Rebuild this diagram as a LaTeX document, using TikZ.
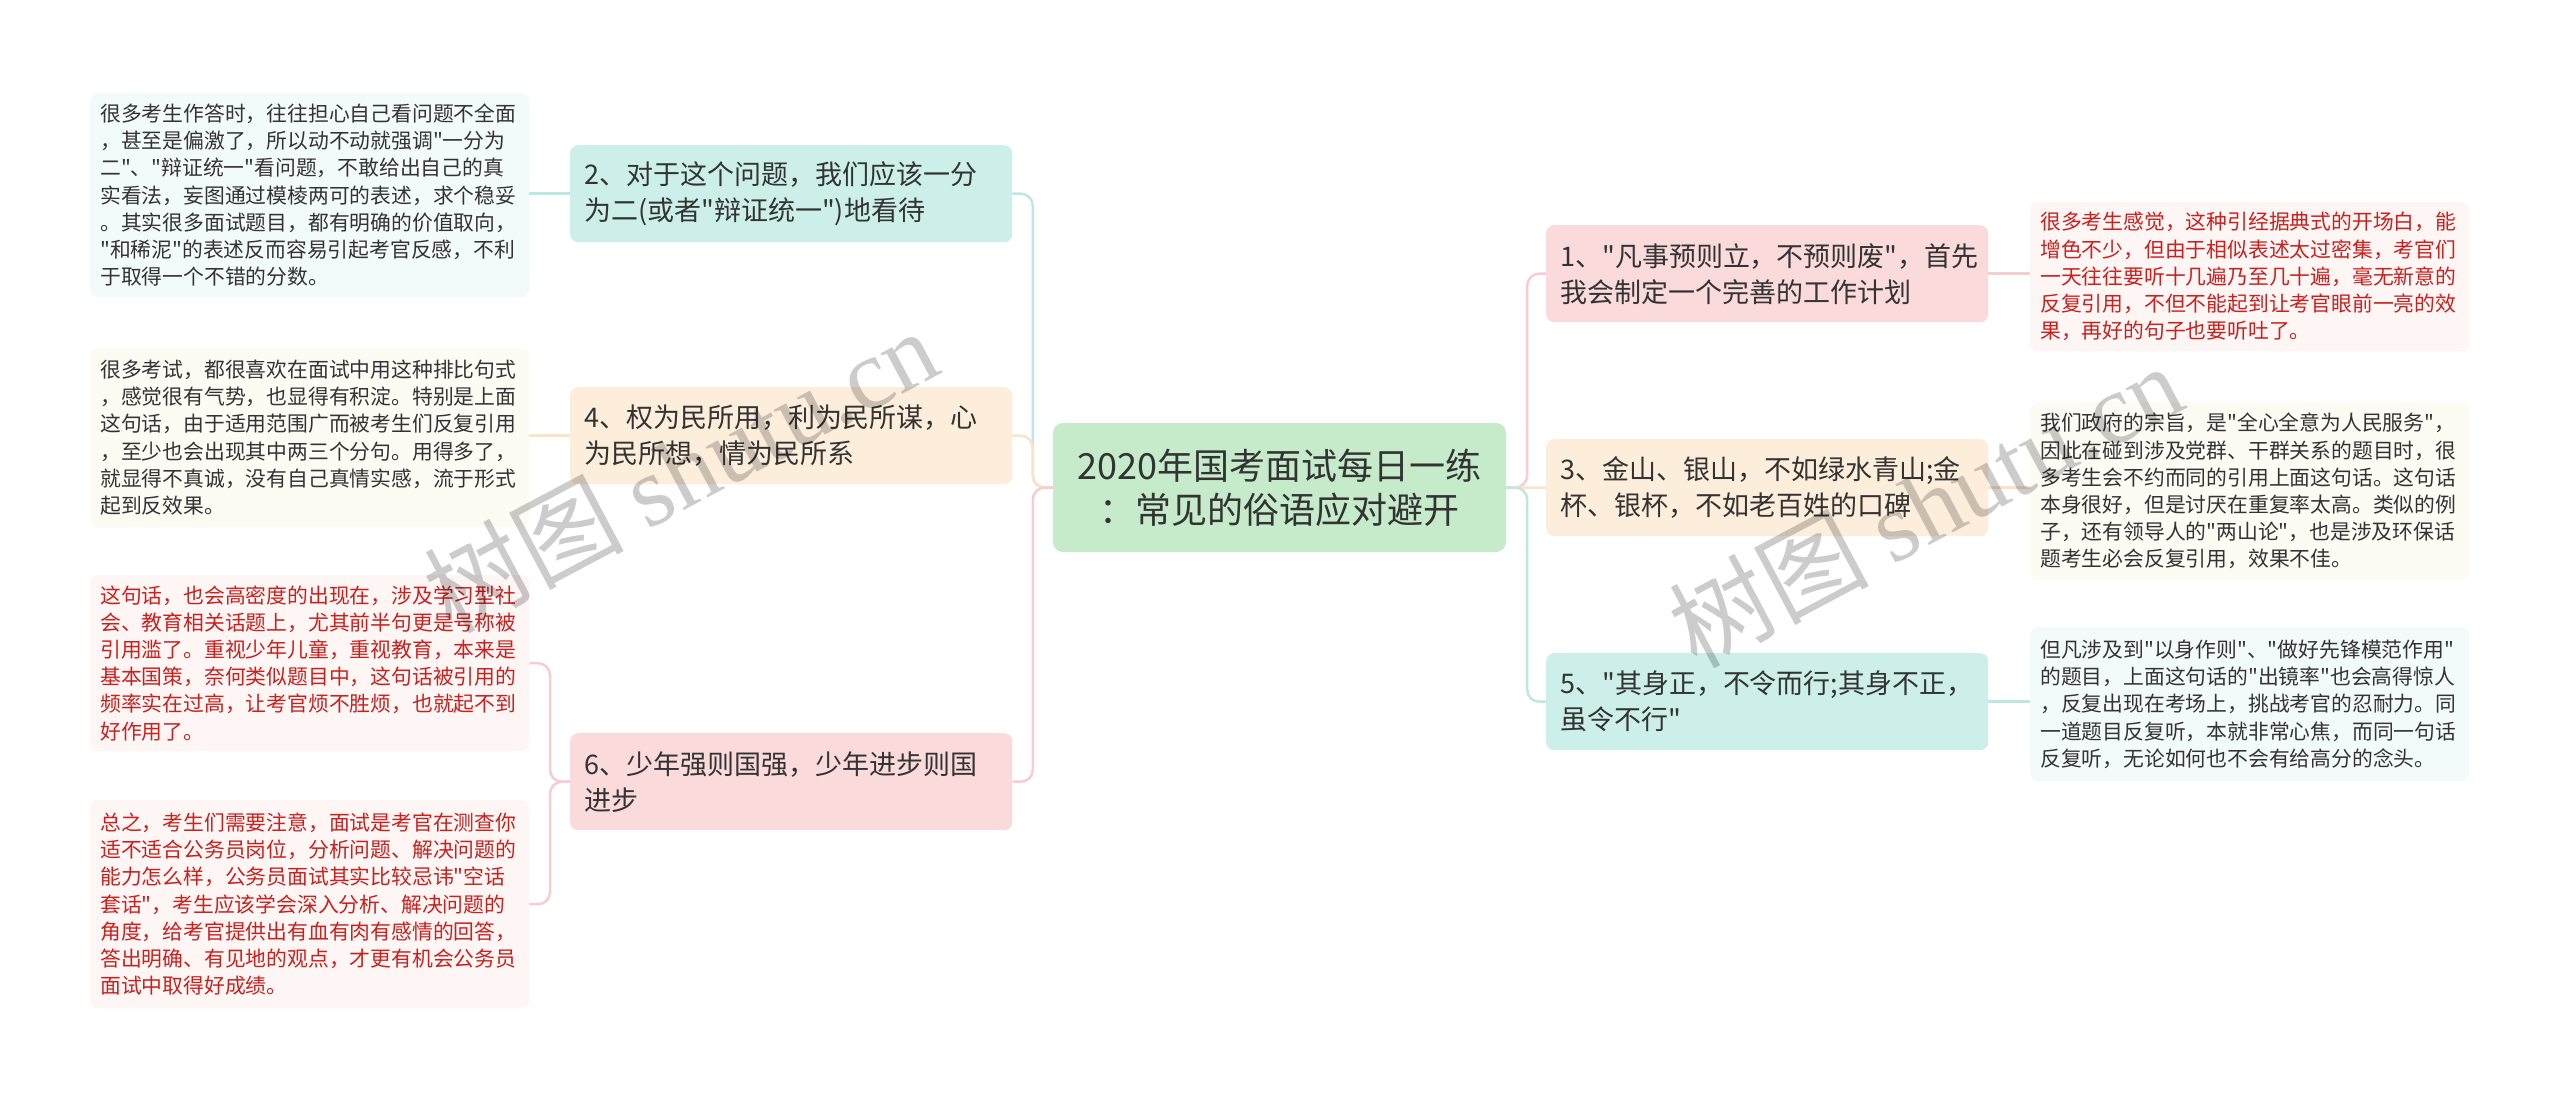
\documentclass[tikz,border=0pt]{standalone}
\usepackage{fontspec}
\setmainfont{Noto Sans CJK SC}[Ligatures=TeXOff]
\newfontfamily\wmfont{Liberation Serif}
\definecolor{tealfill}{HTML}{CCEFE9}
\definecolor{orangefill}{HTML}{FDEEDC}
\definecolor{pinkfill}{HTML}{FADADB}
\definecolor{greenfill}{HTML}{C6EBCB}
\definecolor{tealleaf}{HTML}{F3FBFA}
\definecolor{orangeleaf}{HTML}{FEFAF4}
\definecolor{pinkleaf}{HTML}{FEF5F5}
\definecolor{tealline}{HTML}{BDE7E0}
\definecolor{orangeline}{HTML}{FCE2C6}
\definecolor{pinkline}{HTML}{F7CDD0}
\definecolor{txt}{HTML}{333333}
\definecolor{redtxt}{HTML}{C9211E}
\begin{document}
\begin{tikzpicture}[x=1pt,y=-1pt,
  mainbox/.style={rounded corners=8, anchor=north west, inner xsep=14, inner ysep=0,
    align=left, text width=414, minimum height=97, text=txt,
    font=\fontsize{27}{36}\selectfont},
  leafbox/.style={rounded corners=8, anchor=north west, inner xsep=10, inner ysep=0,
    align=left, text width=419, text=txt,
    font=\fontsize{20.8}{27.2}\selectfont},
  conn/.style={line width=2.5, rounded corners=12},
  watermark/.style={rotate=28, text=black, opacity=0.2,
    font=\fontsize{100}{100}\selectfont}
]
\useasboundingbox (0,0) rectangle (2560,1097);
\fill[white] (0,0) rectangle (2560,1097);

% center
\node[fill=greenfill, rounded corners=10, minimum width=453, minimum height=129,
  align=center, text=txt, font=\fontsize{36}{44}\selectfont, inner sep=0]
  (c) at (1279.5,487.5) {2020年国考面试每日一练\\：常见的俗语应对避开};

% left main nodes
\node[mainbox, fill=tealfill] (n2) at (570,145)
  {2、对于这个问题，我们应该一分\\为二(或者"辩证统一")地看待};
\node[mainbox, fill=orangefill] (n4) at (570,387)
  {4、权为民所用，利为民所谋，心\\为民所想，情为民所系};
\node[mainbox, fill=pinkfill] (n6) at (570,733)
  {6、少年强则国强，少年进步则国\\进步};

% right main nodes
\node[mainbox, fill=pinkfill] (n1) at (1546,225)
  {1、"凡事预则立，不预则废"，首先\\我会制定一个完善的工作计划};
\node[mainbox, fill=orangefill] (n3) at (1546,439)
  {3、金山、银山，不如绿水青山;金\\杯、银杯，不如老百姓的口碑};
\node[mainbox, fill=tealfill] (n5) at (1546,653)
  {5、"其身正，不令而行;其身不正，\\虽令不行"};

% left leaves
\node[leafbox, fill=tealleaf, minimum height=204] (l2) at (90,93)
  {很多考生作答时，往往担心自己看问题不全面\\，甚至是偏激了，所以动不动就强调"一分为\\二"、"辩证统一"看问题，不敢给出自己的真\\实看法，妄图通过模棱两可的表述，求个稳妥\\。其实很多面试题目，都有明确的价值取向，\\"和稀泥"的表述反而容易引起考官反感，不利\\于取得一个不错的分数。};
\node[leafbox, fill=orangeleaf, minimum height=179] (l4) at (90,348)
  {很多考试，都很喜欢在面试中用这种排比句式\\，感觉很有气势，也显得有积淀。特别是上面\\这句话，由于适用范围广而被考生们反复引用\\，至少也会出现其中两三个分句。用得多了，\\就显得不真诚，没有自己真情实感，流于形式\\起到反效果。};
\node[leafbox, fill=pinkleaf, text=redtxt, minimum height=176] (l6a) at (90,575)
  {这句话，也会高密度的出现在，涉及学习型社\\会、教育相关话题上，尤其前半句更是号称被\\引用滥了。重视少年儿童，重视教育，本来是\\基本国策，奈何类似题目中，这句话被引用的\\频率实在过高，让考官烦不胜烦，也就起不到\\好作用了。};
\node[leafbox, fill=pinkleaf, text=redtxt, minimum height=208] (l6b) at (90,800)
  {总之，考生们需要注意，面试是考官在测查你\\适不适合公务员岗位，分析问题、解决问题的\\能力怎么样，公务员面试其实比较忌讳"空话\\套话"，考生应该学会深入分析、解决问题的\\角度，给考官提供出有血有肉有感情的回答，\\答出明确、有见地的观点，才更有机会公务员\\面试中取得好成绩。};

% right leaves
\node[leafbox, fill=pinkleaf, text=redtxt, minimum height=149] (l1) at (2030,202)
  {很多考生感觉，这种引经据典式的开场白，能\\增色不少，但由于相似表述太过密集，考官们\\一天往往要听十几遍乃至几十遍，毫无新意的\\反复引用，不但不能起到让考官眼前一亮的效\\果，再好的句子也要听吐了。};
\node[leafbox, fill=orangeleaf, minimum height=178] (l3) at (2030,402)
  {我们政府的宗旨，是"全心全意为人民服务"，\\因此在碰到涉及党群、干群关系的题目时，很\\多考生会不约而同的引用上面这句话。这句话\\本身很好，但是讨厌在重复率太高。类似的例\\子，还有领导人的"两山论"，也是涉及环保话\\题考生必会反复引用，效果不佳。};
\node[leafbox, fill=tealleaf, minimum height=154] (l5) at (2030,627)
  {但凡涉及到"以身作则"、"做好先锋模范作用"\\的题目，上面这句话的"出镜率"也会高得惊人\\，反复出现在考场上，挑战考官的忍耐力。同\\一道题目反复听，本就非常心焦，而同一句话\\反复听，无论如何也不会有给高分的念头。};

% center to main nodes
\draw[conn, tealline] (c.west) -- ++(-20,0) |- (n2.east);
\draw[conn, orangeline] (c.west) -- ++(-20,0) |- (n4.east);
\draw[conn, pinkline] (c.west) -- ++(-20,0) |- (n6.east);
\draw[conn, pinkline] (c.east) -- ++(21,0) |- (n1.west);
\draw[conn, orangeline] (c.east) -- (n3.west);
\draw[conn, tealline] (c.east) -- ++(21,0) |- (n5.west);

% main nodes to leaves
\draw[conn, tealline] (n2.west) -- (n2.west -| l2.east);
\draw[conn, orangeline] (n4.west) -- (n4.west -| l4.east);
\draw[conn, pinkline] (n6.west) -- ++(-20,0) |- (l6a.east);
\draw[conn, pinkline] (n6.west) -- ++(-20,0) |- (l6b.east);
\draw[conn, pinkline] (n1.east) -- (n1.east -| l1.west);
\draw[conn, orangeline] (n3.east) -- (n3.east -| l3.west);
\draw[conn, tealline] (n5.east) -- (n5.east -| l5.west);

% watermarks
\node[watermark] (wm1) at (680,470) {树图 {\wmfont shutu.cn}};
\node[watermark] (wm2) at (1925,505) {树图 {\wmfont shutu.cn}};
\end{tikzpicture}
\end{document}
